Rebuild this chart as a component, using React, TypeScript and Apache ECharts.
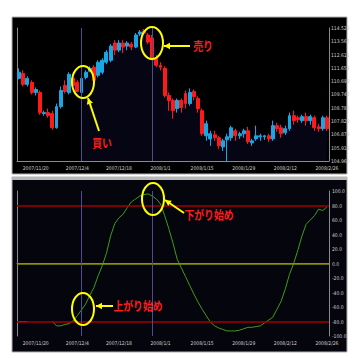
import React, { useEffect, useRef } from 'react';
import * as echarts from 'echarts';

const dates = [
  '2007/11/14','2007/11/15','2007/11/16','2007/11/19','2007/11/20','2007/11/21','2007/11/22','2007/11/23','2007/11/26','2007/11/27',
  '2007/11/28','2007/11/29','2007/11/30','2007/12/3','2007/12/4','2007/12/5','2007/12/6','2007/12/7','2007/12/10','2007/12/11',
  '2007/12/12','2007/12/13','2007/12/14','2007/12/17','2007/12/18','2007/12/19','2007/12/20','2007/12/21','2007/12/24','2007/12/25',
  '2007/12/26','2007/12/27','2007/12/28','2007/12/31','2008/1/1','2008/1/2','2008/1/3','2008/1/4','2008/1/7','2008/1/8',
  '2008/1/9','2008/1/10','2008/1/11','2008/1/14','2008/1/15','2008/1/16','2008/1/17','2008/1/18','2008/1/21','2008/1/22',
  '2008/1/23','2008/1/24','2008/1/25','2008/1/28','2008/1/29','2008/1/30','2008/1/31','2008/2/1','2008/2/4','2008/2/5',
  '2008/2/6','2008/2/7','2008/2/8','2008/2/11','2008/2/12','2008/2/13','2008/2/14','2008/2/15','2008/2/18','2008/2/19',
  '2008/2/20','2008/2/21','2008/2/22','2008/2/25','2008/2/26'
];

const opens = [
  110.90,111.26,110.47,110.61,109.89,109.89,108.37,108.44,108.37,107.35,
  108.87,110.39,109.89,110.90,110.61,109.89,110.97,111.41,111.70,111.12,
  111.34,112.06,112.20,113.44,112.93,113.44,113.22,113.36,113.15,114.09,
  114.31,114.02,113.80,112.35,111.84,111.62,109.67,109.31,108.73,109.31,
  109.81,109.09,109.96,109.45,108.58,106.77,106.55,106.84,106.63,105.97,
  106.48,106.63,107.13,106.77,106.92,107.13,106.26,106.55,106.70,106.70,
  106.77,106.55,107.50,107.35,106.99,107.28,108.22,108.07,107.86,108.15,
  107.86,108.07,107.42,107.28,108.07
];
const closes = [
  111.34,110.47,110.90,109.89,110.10,108.44,108.44,108.22,107.35,108.87,
  110.03,109.96,111.19,110.39,109.96,110.90,111.34,111.62,110.76,112.06,
  112.20,112.78,113.22,112.93,113.44,113.15,113.44,113.15,114.02,114.23,
  114.16,113.51,112.35,111.84,111.70,109.67,109.31,108.58,109.31,108.80,
  109.09,109.89,109.60,108.73,106.92,107.64,106.92,106.63,106.05,106.41,
  106.70,107.35,106.77,106.92,107.13,106.34,106.41,106.77,106.77,106.77,
  106.55,107.50,107.28,106.92,107.28,108.22,107.86,107.93,108.15,107.86,
  108.15,107.35,107.28,108.07,107.28
];
const lows = [
  110.83,110.32,110.32,109.74,109.67,108.29,108.22,108.07,107.21,107.28,
  108.73,109.81,109.74,110.18,109.89,109.60,110.83,111.34,110.61,110.97,
  111.19,111.92,112.06,112.57,112.78,112.71,112.93,112.93,113.07,113.94,
  114.02,113.36,112.20,111.70,111.48,109.52,108.58,108.00,108.44,108.44,
  108.73,108.94,109.31,108.44,106.77,106.41,106.05,106.41,105.83,105.68,
  104.96,106.41,106.41,106.55,106.63,106.19,106.05,106.41,106.41,106.48,
  106.34,106.41,107.06,106.63,106.84,107.13,107.57,107.71,107.71,107.50,
  107.57,107.13,107.06,107.13,107.13
];
const highs = [
  111.62,111.48,111.05,110.76,110.25,110.03,108.58,108.73,108.58,109.09,
  110.32,110.76,111.34,111.05,110.76,111.05,111.48,111.77,111.84,112.20,
  112.35,112.93,113.36,113.65,113.65,113.65,113.58,113.51,114.16,114.38,
  114.45,114.16,114.02,112.57,112.06,111.77,109.89,109.45,109.45,109.45,
  110.03,110.18,110.10,109.60,108.73,107.86,107.13,107.13,106.77,106.55,
  106.92,107.50,107.28,107.06,107.28,107.42,106.55,107.50,106.92,106.84,
  106.92,107.86,107.71,107.57,107.50,108.44,108.58,108.22,108.29,108.44,
  108.29,108.22,107.64,108.22,108.22
];
const oscillator = [
  -80,-80,-80,null,null,null,null,null,-80,-86,
  -86,-84,-83,-79,-72,-64,-56,-44,-33,-17,
  -3,14,38,55,63,68,77,85,89,93,
  95,96,93,89,82,66,48,28,6,-6,
  -18,-30,-42,-53,-63,-72,-81,-86,-89,-91,
  -93,-93,-93,-92,-90,-88,-88,-87,-86,-82,
  -78,-74,-63,-52,-35,-15,0,18,38,54,
  60,66,75,73,78
];
const priceTicks = [104.960,105.916,106.873,107.829,108.785,109.742,110.698,111.654,112.611,113.567,114.523];
const oscLevels = [80, 0, -80];
const buyIndex = 15;
const sellIndex = 32;

const LABEL_FONT = 'Liberation Sans Narrow, DejaVu Sans Condensed, Arial, sans-serif';
const CJK = 'Noto Sans CJK JP, sans-serif';
const AXIS_GRAY = '#8a8a8a';
const VLINE = '#4c4c8e';
const YELLOW = '#ffff00';
const RED_TXT = '#ff1c1c';

function arrowHead(tip: number[], from: number[]) {
  const dx = tip[0] - from[0];
  const dy = tip[1] - from[1];
  const len = Math.sqrt(dx * dx + dy * dy);
  const ux = dx / len, uy = dy / len;
  const bx = tip[0] - ux * 6, by = tip[1] - uy * 6;
  const px = -uy * 3.2, py = ux * 3.2;
  return {
    type: 'polygon', z: 100,
    shape: { points: [tip, [bx + px, by + py], [bx - px, by - py]] },
    style: { fill: YELLOW },
  };
}
function arrow(from: number[], tip: number[]) {
  return [
    { type: 'line', z: 100, shape: { x1: from[0], y1: from[1], x2: tip[0], y2: tip[1] }, style: { stroke: YELLOW, lineWidth: 2 } },
    arrowHead(tip, from),
  ];
}
function circle(cx: number, cy: number) {
  return { type: 'ellipse', z: 100, shape: { cx, cy, rx: 11, ry: 16 }, style: { fill: 'none', stroke: YELLOW, lineWidth: 2 } };
}
function label(text: string, x: number, y: number, size: number) {
  return {
    type: 'text', z: 100, x, y, scaleX: 0.82,
    style: { text, fill: RED_TXT, font: `bold ${size}px ${CJK}`, align: 'center', verticalAlign: 'middle' },
  };
}

const xLabel = {
  interval: (idx: number) => idx % 10 === 4,
  color: '#d0d0d0', fontSize: 5, fontFamily: LABEL_FONT, margin: 4,
  formatter: (v: string) => v,
};

export default function App() {
  const ref = useRef<HTMLDivElement>(null);
  useEffect(() => {
    document.body.style.margin = '0';
    const chart = echarts.init(ref.current!, null, { renderer: 'svg' });
    const candleData = dates.map((_, i) => [opens[i], closes[i], lows[i], highs[i]]);
    const shade = highs.map((h, i) => (i >= buyIndex ? h : null));
    const option: any = {
      animation: false,
      backgroundColor: '#ffffff',
      grid: [
        { left: 17, right: 29, top: 28, bottom: 197 },
        { left: 17, right: 29, top: 191, bottom: 22 },
      ],
      xAxis: [
        { type: 'category', gridIndex: 0, data: dates, boundaryGap: true,
          axisLine: { lineStyle: { color: AXIS_GRAY } }, axisTick: { show: false }, axisLabel: xLabel, splitLine: { show: false } },
        { type: 'category', gridIndex: 1, data: dates, boundaryGap: true,
          axisLine: { lineStyle: { color: AXIS_GRAY } }, axisTick: { show: false }, axisLabel: { ...xLabel, margin: 4 }, splitLine: { show: false } },
      ],
      yAxis: [
        { type: 'value', gridIndex: 0, position: 'right', min: priceTicks[0], max: priceTicks[priceTicks.length - 1],
          axisLine: { show: true, lineStyle: { color: AXIS_GRAY } }, axisTick: { show: false }, splitLine: { show: false },
          axisLabel: { customValues: priceTicks, formatter: (v: number) => v.toFixed(3), color: '#d0d0d0', fontSize: 5, fontFamily: LABEL_FONT, margin: 2 } },
        { type: 'value', gridIndex: 1, position: 'right', min: -100, max: 100, interval: 20,
          axisLine: { show: true, lineStyle: { color: AXIS_GRAY } }, axisTick: { show: false }, splitLine: { show: false },
          axisLabel: { formatter: (v: number) => v.toFixed(1), color: '#d0d0d0', fontSize: 5, fontFamily: LABEL_FONT, margin: 3 } },
        { type: 'value', gridIndex: 0, position: 'left', min: priceTicks[0], max: priceTicks[priceTicks.length - 1],
          axisLine: { show: true, lineStyle: { color: AXIS_GRAY } }, axisTick: { show: false }, axisLabel: { show: false }, splitLine: { show: false } },
        { type: 'value', gridIndex: 1, position: 'left', min: -100, max: 100,
          axisLine: { show: true, lineStyle: { color: AXIS_GRAY } }, axisTick: { show: false }, axisLabel: { show: false }, splitLine: { show: false } },
      ],
      series: [
        { type: 'line', xAxisIndex: 0, yAxisIndex: 0, data: shade, symbol: 'none', z: 1,
          lineStyle: { width: 0, opacity: 0 }, areaStyle: { color: '#050513', opacity: 1 } },
        { type: 'candlestick', xAxisIndex: 0, yAxisIndex: 0, data: candleData, barWidth: 3.4, z: 3,
          itemStyle: { color: '#1aa6e0', color0: '#ff1a1a', borderColor: '#1aa6e0', borderColor0: '#ff1a1a', borderWidth: 1 },
          markLine: { silent: true, symbol: 'none', label: { show: false },
            lineStyle: { color: VLINE, width: 1, type: 'solid' },
            data: [{ xAxis: dates[buyIndex] }, { xAxis: dates[sellIndex] }] } },
        { type: 'line', xAxisIndex: 1, yAxisIndex: 1, data: oscillator, symbol: 'none', connectNulls: false, z: 3,
          lineStyle: { color: '#3e9c16', width: 1 },
          markLine: { silent: true, symbol: 'none', label: { show: false },
            data: [
              { yAxis: oscLevels[0], lineStyle: { color: '#a00000', width: 1.5, type: 'solid' } },
              { yAxis: oscLevels[1], lineStyle: { color: '#8c8c00', width: 1.5, type: 'solid' } },
              { yAxis: oscLevels[2], lineStyle: { color: '#a00000', width: 1.5, type: 'solid' } },
              { xAxis: dates[buyIndex], lineStyle: { color: VLINE, width: 1, type: 'solid' } },
              { xAxis: dates[sellIndex], lineStyle: { color: VLINE, width: 1, type: 'solid' } },
            ] } },
      ],
      graphic: [
        { type: 'rect', z: -1, shape: { x: 12, y: 17, width: 335, height: 157 }, style: { fill: '#000000', stroke: '#b0b0b0', lineWidth: 1 } },
        { type: 'rect', z: -1, shape: { x: 12, y: 177, width: 335, height: 175 }, style: { fill: '#05050e', stroke: '#b0b0b0', lineWidth: 1 } },
        { type: 'rect', z: -1, shape: { x: 12, y: 177, width: 335, height: 3 }, style: { fill: '#b8b8b8' } },
        circle(83, 82),
        ...arrow([99, 131], [88, 98]),
        label('買い', 102, 143, 12),
        circle(152, 43),
        ...arrow([190, 46], [164, 46]),
        label('売り', 203, 46, 12),
        circle(83, 309),
        ...arrow([113, 306], [96, 306]),
        label('上がり始め', 138, 306, 12),
        circle(153, 199),
        ...arrow([184, 213], [165, 200]),
        label('下がり始め', 209, 215, 12),
      ],
    };
    chart.setOption(option);
    return () => chart.dispose();
  }, []);
  return <div ref={ref} style={{ width: 358, height: 358, position: 'absolute', left: 0, top: 0 }} />;
}
